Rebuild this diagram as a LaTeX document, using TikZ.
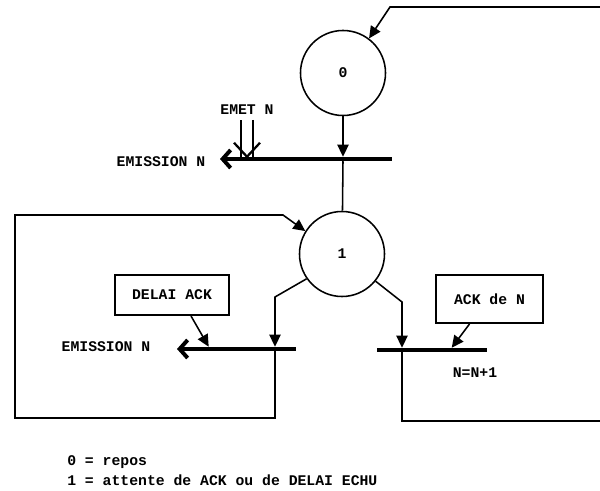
\documentclass[tikz,border=0pt]{standalone}
\usepackage{fontspec}
\setmonofont{Liberation Mono}
\usetikzlibrary{arrows.meta, calc}

\tikzset{
  etat/.style={draw, circle, line width=1.1pt, minimum size=2.125cm, inner sep=0pt},
  barre/.style={fill=black, inner sep=0pt, minimum height=2.8pt},
  evt/.style={draw, line width=1.4pt, inner sep=0pt},
  arc/.style={line width=1.1pt, -{Triangle[length=0.3cm, width=0.28cm]}},
  trait/.style={line width=1.1pt},
  sortie/.style={line width=2.8pt, -{Straight Barb[length=0.2cm, width=0.45cm]}},
  legende/.style={anchor=west, inner sep=0pt}
}

\begin{document}
\begin{tikzpicture}[x=0.025cm, y=-0.025cm, font=\ttfamily\bfseries\fontsize{10.5}{12}\selectfont]
  \useasboundingbox (0,0) rectangle (600,491);

  \node[etat] (p0) at (343,73) {0};
  \node[etat] (p1) at (342,254) {1};

  \node[barre, minimum width=4.075cm] (t0) at (310.5,159) {};
  \node[barre, minimum width=2.65cm] (t1) at (243,349) {};
  \node[barre, minimum width=2.75cm] (t2) at (432,350) {};

  \node (emet) at (247,110) {EMET N};
  \node (s0) at (161,162) {EMISSION N};
  \node (s1) at (106,347) {EMISSION N};
  \node[evt, minimum width=2.85cm, minimum height=1cm] (dly) at (172,295) {DELAI ACK};
  \node[evt, minimum width=2.675cm, minimum height=1.2cm] (ack) at (489.5,299) {ACK de N};
  \node (inc) at (475,373) {N=N+1};

  \coordinate (o0) at (220,159);
  \coordinate (o1) at (177,349);
  \coordinate (k0) at (emet.south |- t0.north);
  \coordinate (k1) at (275,297);
  \coordinate (k2) at (402,302);

  % etat 0
  \draw[arc] (600,7) -- (390,7) -- (p0.53);
  \draw[arc] (p0) -- (p0 |- t0.north);
  \draw[trait] (p0 |- t0.south) -- (p1);
  \draw[sortie] (t0.west) -- (o0);
  \draw[line width=1.4pt, double distance=7pt] (emet.south) -- (k0);
  \draw[line width=1.6pt] ($(k0)+(-13,-14)$) -- (k0) -- ++(13,-14);

  % etat 1
  \draw[arc] (p1.215) -- (k1) -- (k1 |- t1.north);
  \draw[arc] (k1 |- t1.south) -- (275,418) -- (15,418) -- (15,215) -- (283,215) -- (p1.148);
  \draw[sortie] (t1.west) -- (o1);
  \draw[arc] ($(dly.south)+(19,0)$) -- ($(t1.north west)+(19,0)$);
  \draw[arc] (p1.-39) -- (k2) -- (k2 |- t2.north);
  \draw[trait] (k2 |- t2.south) -- (402,421) -- (600,421);
  \draw[arc] ($(ack.south)+(-20,0)$) -- ($(t2.north west)+(75,0)$);

  \node[legende] (l0) at (67,462) {0 = repos};
  \node[legende] (l1) at (67,480) {1 = attente de ACK ou de DELAI ECHU};
\end{tikzpicture}
\end{document}
